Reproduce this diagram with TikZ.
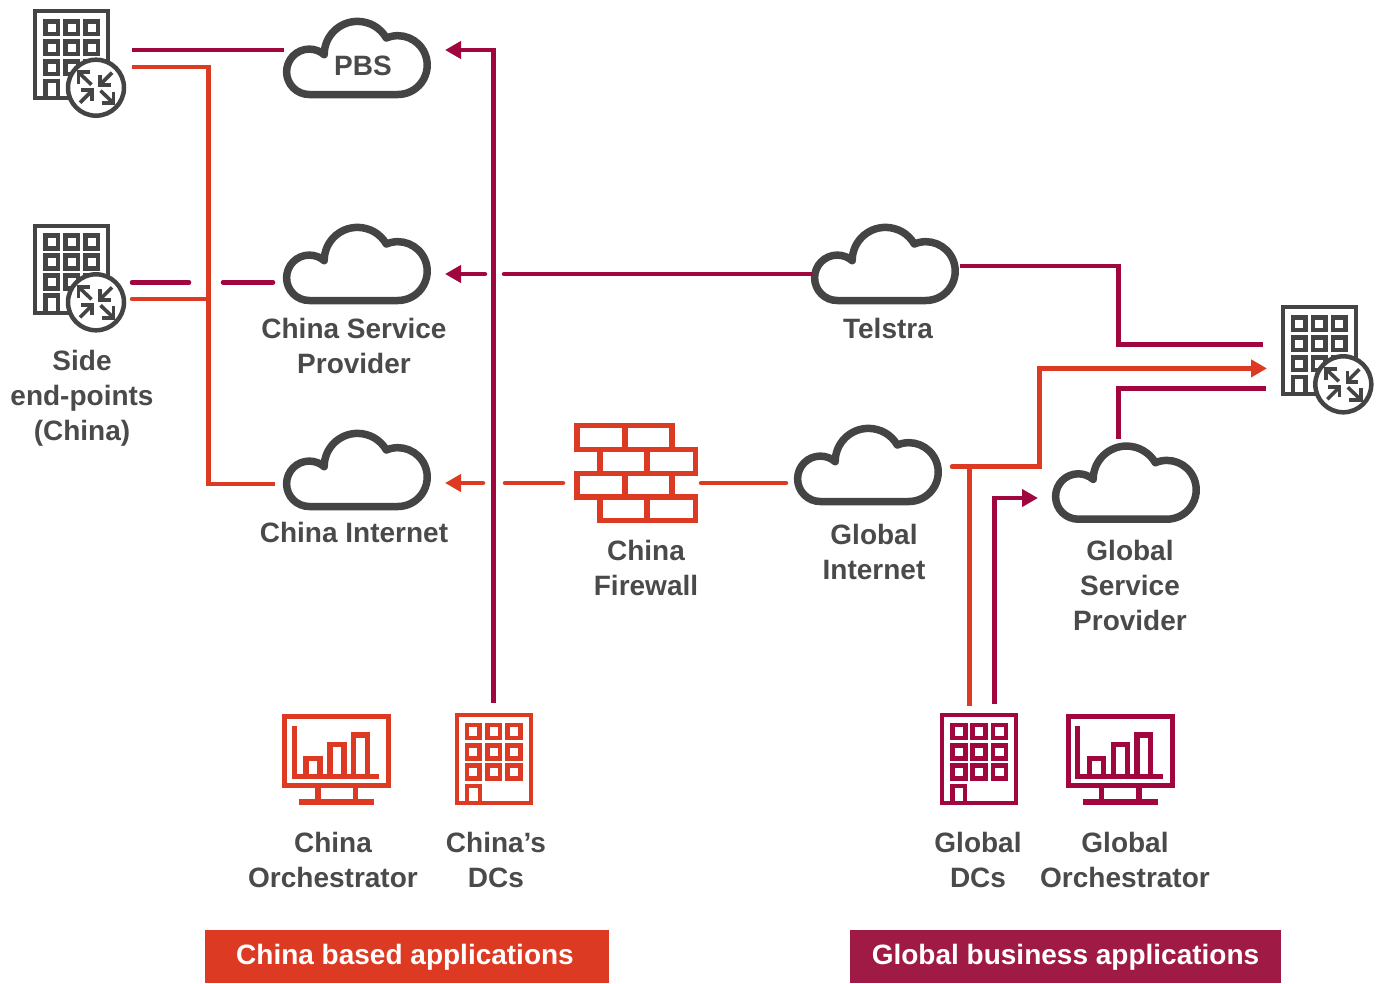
\documentclass[tikz,border=0pt]{standalone}
\usepackage{fontspec}
\setmainfont{Liberation Sans}
\usetikzlibrary{arrows.meta}
\definecolor{cnred}{HTML}{DC3A22}
\definecolor{glred}{HTML}{A0073F}
\definecolor{glbox}{HTML}{9F1A45}
\definecolor{icongray}{HTML}{444444}
\definecolor{labelgray}{HTML}{4A4A4A}
\tikzset{
  lbl/.style={text=labelgray,align=center,font=\bfseries\fontsize{28}{35}\selectfont},
  appbox/.style={minimum height=53,text=white,text height=22.4,text depth=6,font=\bfseries\fontsize{28}{34}\selectfont},
  redline/.style={draw=cnred,line width=4.5},
  glline/.style={draw=glred,line width=4.5},
  headtip/.style={-{Triangle[length=16,width=17]}},
  pics/cloudicon/.style={code={
    \draw[line width=7.5,line join=round] (26.3,76.5) arc[start angle=90,end angle=311,radius=22.7]
      arc[start angle=180,end angle=330,radius=33.3]
      arc[start angle=247,end angle=450,radius=29.41] -- cycle;
  }},
  pics/buildingicon/.style={code={
    \draw[line width=4] (2,2) rectangle (75,89);
    \foreach \i in {0,1,2} \foreach \j in {0,1,2}
      \draw[line width=4.6] (12.2+20*\i,12.2+20*\j) rectangle ++(12.6,12.6);
    \draw[line width=4.3] (12.2,89) -- (12.2,72) -- (24.8,72) -- (24.8,89);
  }},
  pics/routerbadge/.style={code={
    \draw[line width=4.5,fill=white] (0,0) circle (28);
    \foreach \r in {0,180} {
      \draw[line width=3.6,rotate=\r] (-4.5,-3) -- (-16,-14);
      \draw[line width=3.6,rotate=\r] (-17.5,-4) -- (-17.5,-15.5) -- (-6,-15.5);
      \draw[line width=3.6,rotate=\r] (16,-15) -- (5,-4);
      \draw[line width=3.6,rotate=\r] (4,-13) -- (4,-2.5) -- (15,-2.5);
    }
  }},
  pics/monitoricon/.style={code={
    \draw[line width=5] (2.5,2.5) rectangle (106.5,71.7);
    \draw[line width=5.3] (36,74) -- (36,86) (73.5,74) -- (73.5,86) (17,88) -- (92,88);
    \draw[line width=5.3] (12.2,12) -- (12.2,62.8) -- (97,62.8);
    \draw[line width=5.3] (24,62.8) -- (24,44.4) -- (38,44.4) -- (38,62.8);
    \draw[line width=5.3] (48,62.8) -- (48,30.4) -- (62,30.4) -- (62,62.8);
    \draw[line width=5.3] (71.4,62.8) -- (71.4,21) -- (85.3,21) -- (85.3,62.8);
  }},
  pics/firewallicon/.style={code={
    \draw[line width=5.7] (0,0) rectangle (95.4,24) (48,0) -- (48,24);
    \draw[line width=5.7] (23.2,24) rectangle (118.7,47.9) (70.5,24) -- (70.5,47.9);
    \draw[line width=5.7] (0,47.9) rectangle (95.4,71.5) (48,47.9) -- (48,71.5);
    \draw[line width=5.7] (23.2,71.5) rectangle (118.7,95) (70.5,71.5) -- (70.5,95);
  }}
}
\begin{document}
\begin{tikzpicture}[x=1pt,y=-1pt]
  \useasboundingbox (0,0) rectangle (1381,983);

  % sites on the left
  \pic[color=icongray] at (33.3,9.3) {buildingicon};
  \pic[color=icongray] at (96,87.7) {routerbadge};
  \pic[color=icongray] at (33.3,223.5) {buildingicon};
  \pic[color=icongray] at (96,302.3) {routerbadge};
  \pic[color=icongray] at (1280.7,305) {buildingicon};
  \pic[color=icongray] at (1343.3,384.3) {routerbadge};

  % clouds
  \pic[color=icongray] at (283,18) {cloudicon};
  \pic[color=icongray] at (283,224) {cloudicon};
  \pic[color=icongray] at (283,430) {cloudicon};
  \pic[color=icongray] at (811,224) {cloudicon};
  \pic[color=icongray] at (794,425) {cloudicon};
  \pic[color=icongray] at (1052,442.7) {cloudicon};

  % firewall and bottom icons
  \pic[color=cnred] at (576.8,425.5) {firewallicon};
  \pic[color=cnred] at (282,714) {monitoricon};
  \pic[color=cnred,scale=1.017] at (454.5,712.7) {buildingicon};
  \pic[color=glred,scale=1.017] at (940,712.7) {buildingicon};
  \pic[color=glred] at (1065.5,714) {monitoricon};

  % labels
  \node[lbl] (pbs) at (363,66) {PBS};
  \node[lbl] (sidelbl) at (82,398.5) {Side\\end-points\\(China)};
  \node[lbl] (cnsplbl) at (354,346) {China Service\\Provider};
  \node[lbl] (telstralbl) at (888,328) {Telstra};
  \node[lbl] (cninetlbl) at (354,532) {China Internet};
  \node[lbl] (fwlbl) at (646,567.5) {China\\Firewall};
  \node[lbl] (glinetlbl) at (874,552) {Global\\Internet};
  \node[lbl] (glsplbl) at (1130,585) {Global\\Service\\Provider};
  \node[lbl] (cnorchlbl) at (333,860) {China\\Orchestrator};
  \node[lbl] (cndclbl) at (496,860) {China’s\\DCs};
  \node[lbl] (gldclbl) at (978,860) {Global\\DCs};
  \node[lbl] (glorchlbl) at (1125,860) {Global\\Orchestrator};
  \node[appbox,fill=cnred,minimum width=404] (cnapps) at (407,956.5) {China based applications\hspace{4pt}\null};
  \node[appbox,fill=glbox,minimum width=431] (glapps) at (1065.5,956.5) {Global business applications};

  % connector ends
  \coordinate (siteAg) at (132,50);
  \coordinate (pbsL) at (284,50);
  \coordinate (siteAr) at (132,67);
  \coordinate (trunk) at (208.3,484);
  \coordinate (cninetL) at (275,484);
  \coordinate (siteBr) at (132,299);
  \coordinate (trunkB) at (208.3,299);
  \coordinate (siteBg) at (132,282.5);
  \coordinate (gapL) at (189,282.5);
  \coordinate (gapR) at (223,282.5);
  \coordinate (cnspL) at (273,282.5);
  \coordinate (cndcTop) at (493.5,703);
  \coordinate (pbsTurn) at (493.5,50);
  \coordinate (pbsTip) at (445,50);
  \coordinate (telstraL) at (811,274);
  \coordinate (gapC) at (504,274);
  \coordinate (gapD) at (485,274);
  \coordinate (cnspTip) at (445,274);
  \coordinate (fwL) at (563,483);
  \coordinate (gapE) at (505,483);
  \coordinate (gapF) at (483,483);
  \coordinate (cninetTip) at (445,483);
  \coordinate (fwR) at (701,483);
  \coordinate (glinetL) at (786,483);
  \coordinate (telstraR) at (960,265.8);
  \coordinate (telstraTurn) at (1118.3,344.4);
  \coordinate (hqA) at (1263,344.4);
  \coordinate (glinetR) at (952,466.6);
  \coordinate (inetTurn) at (1039.5,368.4);
  \coordinate (hqTip) at (1267,368.4);
  \coordinate (glspTop) at (1118.3,438.5);
  \coordinate (hqB) at (1266,388.6);
  \coordinate (gldcA) at (969.4,706);
  \coordinate (inetJoin) at (969.4,466.6);
  \coordinate (gldcB) at (994.4,704);
  \coordinate (glspTip) at (1038,498);

  % connectors
  \draw[glline] (siteAg) -- (pbsL);
  \draw[redline] (siteAr) -| (trunk) -- (cninetL);
  \draw[redline,line cap=round] (siteBr) -- (trunkB);
  \draw[glline,line cap=round] (siteBg) -- (gapL);
  \draw[glline,line cap=round] (gapR) -- (cnspL);
  \draw[glline,headtip] (cndcTop) -- (pbsTurn) -- (pbsTip);
  \draw[glline,line cap=round] (telstraL) -- (gapC);
  \draw[glline,line cap=round,headtip] (gapD) -- (cnspTip);
  \draw[redline,line cap=round] (fwL) -- (gapE);
  \draw[redline,line cap=round,headtip] (gapF) -- (cninetTip);
  \draw[redline,line cap=round] (fwR) -- (glinetL);
  \draw[glline] (telstraR) -| (telstraTurn) -- (hqA);
  \draw[redline,line cap=round,headtip] (glinetR) -| (inetTurn) -- (hqTip);
  \draw[glline] (glspTop) |- (hqB);
  \draw[redline] (gldcA) -- (inetJoin);
  \draw[glline,headtip] (gldcB) |- (glspTip);
\end{tikzpicture}
\end{document}
